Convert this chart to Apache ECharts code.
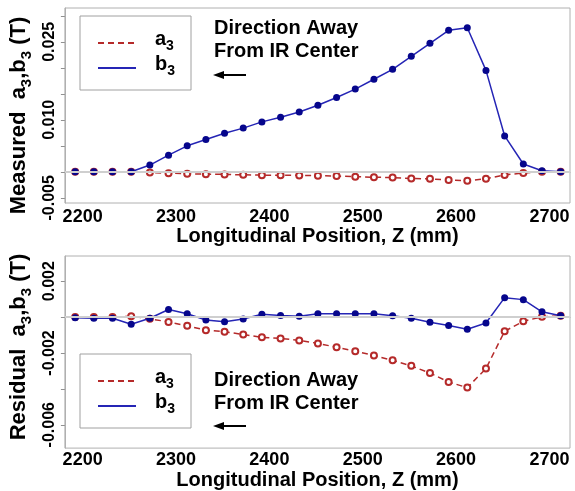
<!DOCTYPE html>
<html>
<head>
<meta charset="utf-8">
<script src="https://cdn.jsdelivr.net/npm/echarts@6/dist/echarts.min.js"></script>
<style>html,body{margin:0;padding:0;background:#fff}#c{width:575px;height:491px}</style>
</head>
<body>
<div id="c"></div>
<script>
// Longitudinal positions (mm)
var zPos = [2192,2212,2232,2252,2272,2292,2312,2332,2352,2372,2392,2412,2432,2452,2472,2492,2512,2532,2552,2572,2592,2612,2632,2652,2672,2692,2712];
// Measured (T)
var measA3 = [0,0,0,0,-0.00013,-0.00026,-0.00038,-0.00045,-0.0005,-0.00058,-0.00064,-0.00064,-0.0007,-0.00074,-0.00083,-0.00093,-0.00105,-0.0011,-0.0013,-0.00135,-0.0016,-0.0017,-0.00135,-0.0006,-0.00024,0,0];
var measB3 = [0,0,0,0,0.0013,0.0032,0.0050,0.0062,0.0074,0.0084,0.0096,0.0105,0.0115,0.0128,0.0143,0.0159,0.0178,0.0197,0.0222,0.0247,0.0272,0.0277,0.0195,0.0069,0.0015,0.0002,0];
// Residual (T)
var resA3 = [0,0,0,0.00005,-0.0001,-0.00027,-0.00049,-0.00073,-0.00082,-0.00097,-0.00113,-0.00119,-0.0013,-0.00147,-0.00168,-0.0019,-0.00214,-0.00241,-0.00272,-0.00312,-0.00362,-0.00393,-0.00287,-0.00079,-0.00024,0.00002,0.00007];
var resB3 = [-0.00004,-0.00007,-0.00007,-0.0004,-0.00007,0.00042,0.00018,-0.00016,-0.00026,-0.00011,0.00016,0.00009,0.00004,0.00018,0.00018,0.00018,0.00018,0.00007,-0.00007,-0.00029,-0.00047,-0.00068,-0.00033,0.00108,0.00097,0.00029,0.00007];
// Tick values / labels
var xTicks = [2200,2300,2400,2500,2600,2700];
var topYTicks = [-0.005,0,0.005,0.010,0.015,0.020,0.025,0.030];
var topYLabels = [-0.005,0.010,0.025];
var botYTicks = [-0.006,-0.004,-0.002,0,0.002];
var botYLabels = [-0.006,-0.002,0.002];

function pairs(xs, ys){ return xs.map(function(x,i){ return [x, ys[i]]; }); }

var FONT = '"Liberation Sans", Arial, sans-serif';
var RED = '#b52a2a', BLUE_L = '#2525b5', BLUE_M = '#06068c';
function rich(big, small){
  return {
    m: {fontSize: big, fontWeight: 'bold', fontFamily: FONT, color: '#000', verticalAlign: 'bottom', lineHeight: big, padding: [0,0,4,0]},
    s: {fontSize: small, fontWeight: 'bold', fontFamily: FONT, color: '#000', verticalAlign: 'bottom', lineHeight: small}
  };
}

function xAxis(idx, margin, gap){
  return {
    type: 'value', gridIndex: idx, min: 2181, max: 2722,
    axisLine: {show: true, lineStyle: {color: '#b0b0b0'}},
    axisTick: {show: false},
    splitLine: {show: false},
    axisLabel: {customValues: xTicks, margin: margin, fontSize: 18, fontWeight: 'bold', fontFamily: FONT, color: '#000',
      formatter: function(v){ return String(v); }},
    name: 'Longitudinal Position, Z (mm)', nameLocation: 'middle', nameGap: gap,
    nameTextStyle: {fontSize: 20, fontWeight: 'bold', fontFamily: FONT, color: '#000'}
  };
}
function yAxis(idx, min, max, ticks, labels, name, pad){
  return {
    type: 'value', gridIndex: idx, min: min, max: max,
    axisLine: {show: true, lineStyle: {color: '#b0b0b0'}},
    axisTick: {show: true, customValues: ticks, length: 4, lineStyle: {color: '#909090'}},
    splitLine: {show: false},
    axisLabel: {customValues: labels, rotate: 90, margin: 7, fontSize: 16, fontWeight: 'bold', fontFamily: FONT, color: '#000',
      formatter: function(v){ return v.toFixed(3); }},
    name: name, nameLocation: 'middle', nameGap: 28,
    nameTextStyle: {rich: rich(22, 15), padding: pad}
  };
}
function aSeries(idx, data){
  return {type: 'line', name: 'a3', xAxisIndex: idx, yAxisIndex: idx, data: pairs(zPos, data),
    symbol: 'emptyCircle', symbolSize: 6, z: 3,
    lineStyle: {color: RED, width: 1.5, type: [6,4]},
    itemStyle: {color: RED, borderColor: RED, borderWidth: 1.2}};
}
function bSeries(idx, data){
  return {type: 'line', name: 'b3', xAxisIndex: idx, yAxisIndex: idx, data: pairs(zPos, data),
    symbol: 'circle', symbolSize: 7, z: 4,
    lineStyle: {color: BLUE_L, width: 1.5},
    itemStyle: {color: BLUE_M}};
}
function zeroLine(idx){
  return {type: 'line', xAxisIndex: idx, yAxisIndex: idx, data: [], z: 1,
    markLine: {silent: true, symbol: 'none', label: {show: false},
      lineStyle: {color: '#cfcfcf', width: 2, type: 'solid'}, data: [{yAxis: 0}]}};
}
function legend(top){
  return {
    left: 80, top: top, orient: 'vertical', data: ['a3','b3'],
    itemWidth: 38, itemHeight: 14, itemGap: 1,
    padding: [13, 16, 12, 17],
    borderColor: '#a0a0a0', borderWidth: 1, backgroundColor: '#fff',
    selectedMode: false,
    itemStyle: {opacity: 0},
    textStyle: {padding: [0,0,0,14], rich: rich(20, 14)},
    formatter: function(n){ return '{m|' + n.charAt(0) + '}{s|' + n.slice(1) + '}'; }
  };
}
function arrowGraphic(y){
  return [
    {type: 'line', shape: {x1: 222, y1: y, x2: 246, y2: y}, style: {stroke: '#000', lineWidth: 2}, z: 10},
    {type: 'polygon', shape: {points: [[213, y], [224, y-4], [224, y+4]]}, style: {fill: '#000'}, z: 10}
  ];
}
function dirText(top){
  return {type: 'text', left: 214, top: top, z: 10,
    style: {text: 'Direction Away\nFrom IR Center', font: 'bold 20px ' + FONT, fill: '#000', lineHeight: 23}};
}

var chart = echarts.init(document.getElementById('c'), null, {renderer: 'canvas'});
chart.setOption({
  animation: false,
  backgroundColor: '#fff',
  grid: [
    {left: 62, right: 5, top: 8, height: 195, show: true, borderColor: '#b0b0b0', borderWidth: 1},
    {left: 62, right: 5, top: 256, height: 196, show: true, borderColor: '#b0b0b0', borderWidth: 1}
  ],
  xAxis: [xAxis(0, 5, 22), xAxis(1, 3, 19)],
  yAxis: [
    yAxis(0, -0.006, 0.0315, topYTicks, topYLabels, '{m|Measured  a}{s|3}{m|,b}{s|3}{m| (T)}', [0,20,0,0]),
    yAxis(1, -0.0073, 0.0034, botYTicks, botYLabels, '{m|Residual  a}{s|3}{m|,b}{s|3}{m| (T)}', [0,0,0,10])
  ],
  legend: [legend(16), legend(354)],
  series: [
    zeroLine(0), aSeries(0, measA3), bSeries(0, measB3),
    zeroLine(1), aSeries(1, resA3), bSeries(1, resB3)
  ],
  graphic: [dirText(17.3), dirText(369)].concat(arrowGraphic(75)).concat(arrowGraphic(426))
});
</script>
</body>
</html>
